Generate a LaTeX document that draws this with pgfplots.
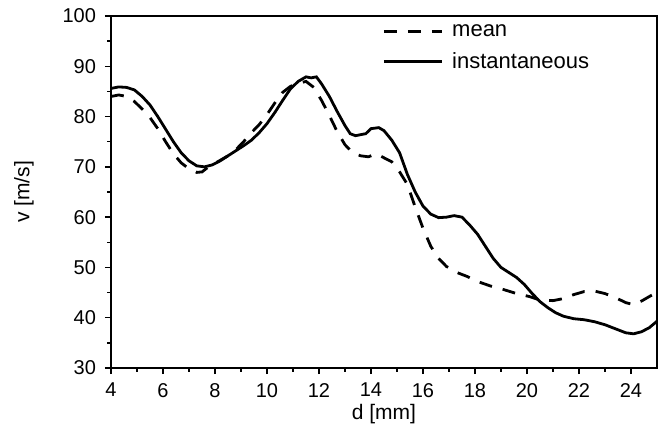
\documentclass[border=0pt]{standalone}
\usepackage{pgfplots}
\pgfplotsset{compat=1.18}
\usepackage{fontspec}
\setmainfont{Liberation Sans}
\begin{document}
\begin{tikzpicture}
\path[use as bounding box] (-55.5pt,-33pt) rectangle (277pt,184pt);
\begin{axis}[
  at={(0pt,0pt)}, anchor=south west,
  scale only axis, width=273pt, height=176pt,
  xmin=4, xmax=25, ymin=30, ymax=100,
  xtick={4,6,...,24}, ytick={30,40,...,100},
  minor x tick num=1, minor y tick num=1,
  tick align=outside, xtick pos=bottom, ytick pos=left,
  major tick length=3pt, minor tick length=1.8pt,
  every tick/.style={black, line width=0.7pt},
  axis line style={line width=0.9pt},
  tick label style={font=\fontsize{10}{12}\selectfont},
  /pgf/number format/assume math mode=true,
  xticklabel style={yshift=-1pt},
  yticklabel style={xshift=-1pt},
  xlabel={d [mm]}, ylabel={v [m/s]},
  every axis x label/.style={at={(136.5pt,-23pt)}, anchor=center, font=\fontsize{10.5}{12}\selectfont},
  every axis y label/.style={at={(-43.5pt,88pt)}, rotate=90, anchor=center, font=\fontsize{10.5}{12}\selectfont},
  legend style={at={(135.5pt,174pt)}, anchor=north west, draw=none, fill=none,
    inner sep=0pt, row sep=2.5pt, font=\fontsize{11}{13}\selectfont, cells={anchor=west}},
  legend cell align=left,
  legend image code/.code={\draw[#1] (0pt,0pt) -- (29pt,0pt); \path (31.5pt,0pt);},
]
\addplot[black, line width=1.4pt, dash pattern=on 6.5pt off 5.5pt] coordinates {
(4.0,84.0) (4.3,84.3) (4.6,84.0) (4.9,83.0) (5.2,81.5) (5.5,79.8) (5.8,77.6)
(6.1,75.0) (6.4,72.6) (6.7,70.8) (7.0,69.6) (7.3,68.9) (7.5,69.0) (7.8,70.2)
(8.1,71.0) (8.5,72.2) (8.8,73.4) (9.1,75.0) (9.4,76.8) (9.7,78.4) (10.0,80.4)
(10.3,82.7) (10.6,84.8) (10.9,86.0) (11.2,86.6) (11.5,87.0) (11.8,85.8)
(12.1,83.2) (12.4,80.2) (12.7,77.0) (13.0,74.4) (13.3,72.8) (13.6,72.2)
(13.9,72.0) (14.2,72.6) (14.5,71.8) (14.8,71.0) (15.1,69.0) (15.4,66.5)
(15.7,62.0) (16.0,57.8) (16.3,54.2) (16.6,51.8) (16.9,50.2) (17.3,49.0)
(17.7,48.2) (18.1,47.2) (18.6,46.3) (19.1,45.6) (19.6,44.8) (20.1,44.2)
(20.5,43.5) (21.0,43.4) (21.4,43.8) (21.8,44.6) (22.2,45.2) (22.6,45.3)
(23.0,44.8) (23.4,44.0) (23.8,43.0) (24.1,42.6) (24.4,43.3) (24.7,44.2) (25.0,45.0)
};
\addlegendentry{mean}
\addplot[black, line width=1.4pt] coordinates {
(4.0,85.6) (4.3,85.9) (4.6,85.8) (4.9,85.3) (5.2,84.0) (5.5,82.3) (5.8,80.0)
(6.1,77.5) (6.4,75.0) (6.7,72.8) (7.0,71.2) (7.3,70.2) (7.6,70.0) (7.9,70.4)
(8.2,71.2) (8.5,72.2) (8.8,73.2) (9.1,74.2) (9.4,75.3) (9.7,76.8) (10.0,78.6)
(10.3,80.8) (10.6,83.2) (10.9,85.5) (11.2,87.0) (11.5,87.9) (11.7,87.7)
(11.9,87.9) (12.1,86.5) (12.4,84.0) (12.7,81.0) (13.0,78.2) (13.2,76.6)
(13.4,76.2) (13.6,76.4) (13.8,76.6) (14.0,77.6) (14.3,77.8) (14.5,77.2)
(14.8,75.3) (15.1,72.8) (15.4,68.5) (15.7,65.0) (16.0,62.2) (16.3,60.6)
(16.6,59.9) (16.9,60.0) (17.2,60.3) (17.5,60.0) (17.8,58.4) (18.1,56.6)
(18.4,54.2) (18.7,51.8) (19.0,50.0) (19.3,49.0) (19.6,48.0) (19.9,46.6)
(20.2,44.8) (20.5,43.2) (20.8,42.0) (21.1,41.0) (21.4,40.3) (21.8,39.8)
(22.2,39.6) (22.6,39.2) (23.0,38.6) (23.4,37.8) (23.8,37.0) (24.1,36.8)
(24.4,37.2) (24.7,38.0) (25.0,39.3)
};
\addlegendentry{instantaneous}
\end{axis}
\end{tikzpicture}
\end{document}
